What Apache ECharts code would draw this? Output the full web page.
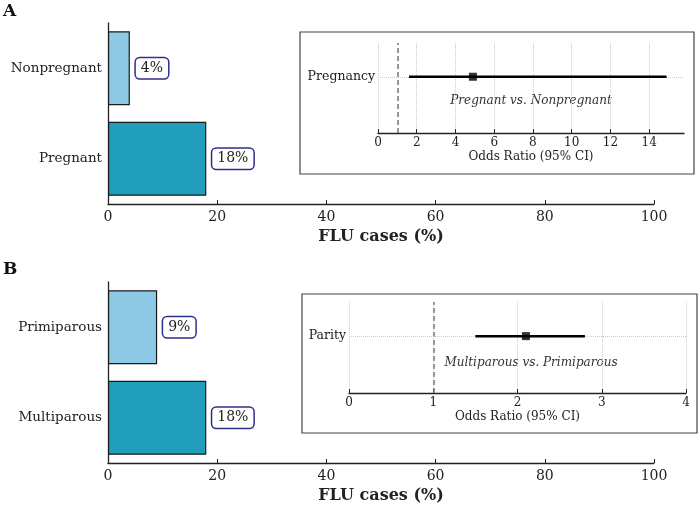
<!DOCTYPE html>
<html>
<head>
<meta charset="utf-8">
<script src="https://cdn.jsdelivr.net/npm/echarts@6/dist/echarts.min.js"></script>
<style>
  html, body { margin: 0; padding: 0; background: #fff; }
  #chart { width: 700px; height: 505px; }
</style>
</head>
<body>
<div id="chart"></div>
<script>
// panel A: pregnancy status
const groupsA = ['Pregnant', 'Nonpregnant']
const fluA = [18, 4]
const orLabelA = 'Pregnancy'
const orA = { est: 4.9, low: 1.6, high: 14.9 }
const orMaxA = 15.8
const noteA = 'Pregnant vs. Nonpregnant'

// panel B: parity
const groupsB = ['Multiparous', 'Primiparous']
const fluB = [18, 9]
const orLabelB = 'Parity'
const orB = { est: 2.1, low: 1.5, high: 2.8 }
const orMaxB = 4
const noteB = 'Multiparous vs. Primiparous'

const barColors = ['#219ebc', '#8ecae6']
const font = 'DejaVu Serif'
const ink = '#222'

function barAxes(idx, groups) {
  const x = {
    gridIndex: idx, type: 'value', min: 0, max: 100, interval: 20,
    name: 'FLU cases (%)', nameLocation: 'middle', nameGap: 25,
    nameTextStyle: { fontFamily: font, fontSize: 16, fontWeight: 'bold', color: ink },
    axisLine: { show: true, onZero: false, lineStyle: { color: ink, width: 1.3 } },
    axisTick: { show: true, inside: true, length: 4, lineStyle: { color: ink } },
    axisLabel: { fontFamily: font, fontSize: 14, color: ink, margin: 6 },
    splitLine: { show: false }
  }
  const y = {
    gridIndex: idx, type: 'category', data: groups,
    axisLine: { show: true, lineStyle: { color: ink, width: 1.3 } },
    axisTick: { inside: true, length: 4, alignWithLabel: true, lineStyle: { color: ink } },
    axisLabel: { fontFamily: font, fontSize: 13.5, color: ink, margin: 6 }
  }
  return [x, y]
}

function orAxes(idx, label, max, interval) {
  const onTick = max % interval === 0
  const x = {
    gridIndex: idx, type: 'value', min: 0, max: max, interval: interval,
    name: 'Odds Ratio (95% CI)', nameLocation: 'middle', nameGap: 18,
    nameTextStyle: { fontFamily: font, fontSize: 12, color: ink },
    axisLine: { show: true, onZero: false, lineStyle: { color: ink, width: 1.3 } },
    axisTick: { show: true, inside: true, length: 4, lineStyle: { color: ink } },
    axisLabel: {
      fontFamily: font, fontSize: 12, color: ink, margin: 4, showMaxLabel: onTick,
      formatter: (v) => (Math.abs(v / interval - Math.round(v / interval)) < 1e-6 ? String(v) : '')
    },
    splitLine: { show: true, showMaxLine: onTick, lineStyle: { color: '#ccc', type: 'dotted', width: 1 } }
  }
  const y = {
    gridIndex: idx, type: 'value', min: -1, max: 0.6, interval: 1,
    axisLine: { show: false }, axisTick: { show: false },
    axisLabel: { fontFamily: font, fontSize: 12.5, color: ink, margin: 3,
      formatter: (v) => (v === 0 ? label : '') },
    splitLine: { show: false }
  }
  return [x, y]
}

function barSeries(idx, values) {
  return {
    type: 'bar', xAxisIndex: idx, yAxisIndex: idx, barWidth: 74,
    data: values.map((v, i) => ({
      value: v,
      itemStyle: { color: barColors[i], borderColor: '#1a1a1a', borderWidth: 1.2 }
    })),
    label: {
      show: true, position: 'right', distance: 6,
      formatter: '{c}%', fontFamily: font, fontSize: 14, color: ink,
      backgroundColor: '#fff', borderColor: '#2e2e8c', borderWidth: 1.5,
      borderRadius: 4, padding: [3, 5, 3, 5]
    }
  }
}

function orSeries(idx, or) {
  return [
    {
      type: 'line', xAxisIndex: idx, yAxisIndex: idx, symbol: 'none',
      data: [[or.low, 0], [or.high, 0]],
      lineStyle: { color: '#000', width: 2.5 }, z: 5,
      markLine: {
        silent: true, symbol: 'none', label: { show: false },
        data: [
          { xAxis: 1, lineStyle: { color: '#777', type: [5, 3], width: 1.5 } },
          { yAxis: 0, lineStyle: { color: '#ccc', type: 'dotted', width: 1 } }
        ]
      }
    },
    {
      type: 'scatter', xAxisIndex: idx, yAxisIndex: idx, symbol: 'rect', symbolSize: 8,
      data: [[or.est, 0]], itemStyle: { color: '#000' }, z: 6
    }
  ]
}

const [bxA, byA] = barAxes(0, groupsA)
const [oxA, oyA] = orAxes(1, orLabelA, orMaxA, 2)
const [bxB, byB] = barAxes(2, groupsB)
const [oxB, oyB] = orAxes(3, orLabelB, orMaxB, 1)

const noteStyle = { fontFamily: font, fontSize: 12, fontStyle: 'italic', fill: '#333' }

const option = {
  animation: false,
  backgroundColor: '#fff',
  grid: [
    { left: 108, width: 546, top: 23, height: 181 },
    { left: 378, right: 16, top: 43, height: 90 },
    { left: 108, width: 546, top: 282, height: 181 },
    { left: 349, right: 14, top: 302, height: 91 }
  ],
  xAxis: [bxA, oxA, bxB, oxB],
  yAxis: [byA, oyA, byB, oyB],
  graphic: [
    { type: 'text', left: 3, top: 3, style: { text: 'A', fontFamily: font, fontSize: 17, fontWeight: 'bold', fill: '#111' } },
    { type: 'text', left: 3, top: 261, style: { text: 'B', fontFamily: font, fontSize: 17, fontWeight: 'bold', fill: '#111' } },
    { type: 'rect', shape: { x: 300, y: 32, width: 394, height: 142 }, style: { fill: 'none', stroke: '#444', lineWidth: 1.2 }, z: 0 },
    { type: 'rect', shape: { x: 302, y: 294, width: 395, height: 139 }, style: { fill: 'none', stroke: '#444', lineWidth: 1.2 }, z: 0 },
    { type: 'text', x: 531, y: 101, style: Object.assign({ text: noteA, textAlign: 'center', textVerticalAlign: 'middle' }, noteStyle) },
    { type: 'text', x: 531, y: 363, style: Object.assign({ text: noteB, textAlign: 'center', textVerticalAlign: 'middle' }, noteStyle) }
  ],
  series: [
    barSeries(0, fluA),
    ...orSeries(1, orA),
    barSeries(2, fluB),
    ...orSeries(3, orB)
  ]
}

const chart = echarts.init(document.getElementById('chart'))
chart.setOption(option)
</script>
</body>
</html>
